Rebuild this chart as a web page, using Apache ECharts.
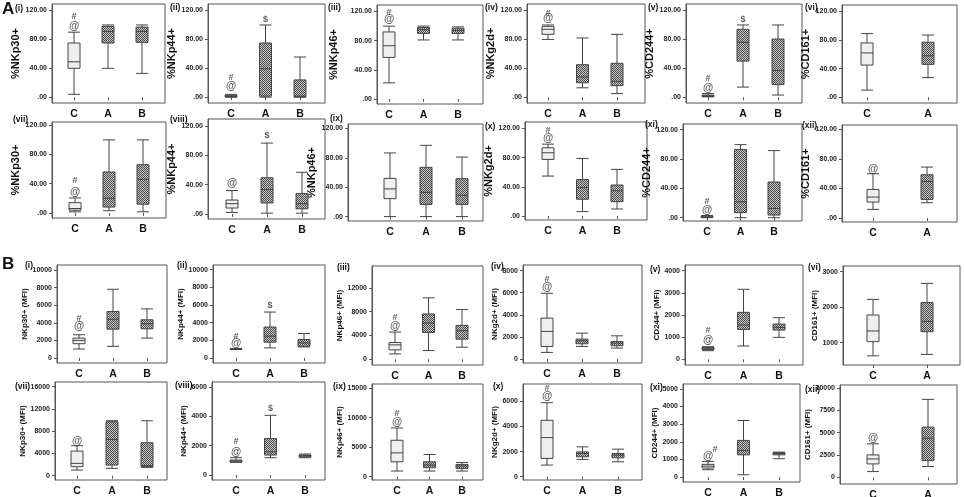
<!DOCTYPE html>
<html>
<head>
<meta charset="utf-8">
<script src="https://cdn.jsdelivr.net/npm/echarts@6/dist/echarts.min.js"></script>
<style>
  html, body { margin: 0; padding: 0; background: #fff; }
  #main { width: 964px; height: 497px; }
</style>
</head>
<body>
<div id="main"></div>
<script>
// groups
const catsCAB = ['C', 'A', 'B'];
const catsCA = ['C', 'A'];

// box values: [min, Q1, median, Q3, max] per group
// A, row 1 (% positive)
const aNKp30 = [[4, 40, 49, 75, 90], [40, 75, 91, 98, 100], [33, 76, 91, 97, 100]];
const aNKp44 = [[0, 0.5, 1, 2.5, 4], [0, 1.5, 39.5, 75, 100], [0, 0.5, 1.5, 24, 55.6]];
const aNKp46 = [[22, 57, 73, 92, 100], [81, 90, 95, 98, 100], [81, 90, 94, 97, 99]];
const aNKg2d = [[80, 87, 94, 98, 100], [13, 20, 28, 45, 82], [5, 16, 22, 47, 87]];
const aCD244 = [[0.5, 1, 2, 3, 5], [14, 50, 76, 94, 100], [3, 17.5, 37, 80.5, 100]];
const aCD161 = [[10, 45, 62, 76, 89], [27.5, 46, 58, 77, 87]];
// A, row 2
const aNKp30b = [[1.4, 3.7, 6, 14, 20.5], [3, 8, 20, 56, 100], [1.5, 12, 46, 66, 100]];
const aNKp44b = [[2, 8, 14, 19, 32], [1, 15, 33.5, 49.5, 97], [1, 7, 14, 28, 57]];
const aNKp46b = [[0, 24.4, 37.7, 52, 86.6], [0, 16.6, 33, 67, 97], [0, 16.6, 29, 51.6, 81]];
const aNKg2db = [[54.8, 77.6, 86.8, 93.6, 98.6], [6, 23, 39, 50, 79], [9.6, 19.6, 34.7, 42.5, 64]];
const aCD244b = [[0, 0.5, 1, 2, 3], [0, 6.8, 21.6, 93, 99.5], [0, 3.6, 12.6, 48.6, 91.4]];
const aCD161b = [[11.7, 21.6, 28.4, 38.7, 60], [20.7, 25.2, 49.5, 58.6, 69]];
// B, row 1 (MFI)
const bNKp30 = [[1020, 1620, 2000, 2260, 2640], [1320, 3280, 4400, 5280, 7810], [2260, 3320, 3890, 4340, 5580]];
const bNKp44 = [[950, 980, 1000, 1030, 1080], [1140, 1790, 2470, 3500, 5200], [1250, 1330, 1710, 2090, 2780]];
const bNKp46 = [[900, 1580, 2420, 2820, 4560], [1460, 4500, 6080, 7600, 10310], [2030, 3380, 4790, 5690, 8340]];
const bNKg2d = [[600, 1140, 2500, 3700, 5950], [1140, 1380, 1650, 1800, 2340], [990, 1200, 1440, 1590, 2100]];
const bCD244 = [[390, 440, 480, 530, 570], [600, 1350, 1550, 2120, 3160], [990, 1320, 1440, 1590, 1880]];
const bCD161 = [[630, 1030, 1330, 1780, 2220], [670, 1310, 1600, 2130, 2670]];
// B, row 2
const bNKp30b = [[1020, 1620, 2220, 4430, 5390], [1320, 1920, 6530, 9700, 9880], [1500, 1620, 1800, 5930, 9880]];
const bNKp44b = [[860, 905, 970, 1020, 1180], [1180, 1360, 1580, 2490, 4070], [1180, 1240, 1310, 1360, 1430]];
const bNKp46b = [[960, 2530, 4040, 6180, 8260], [960, 1520, 1970, 2530, 3760], [960, 1400, 1800, 2080, 2420]];
const bNKg2db = [[930, 1460, 3120, 4500, 5900], [1380, 1590, 1850, 1980, 2380], [1190, 1510, 1720, 1850, 2200]];
const bCD244b = [[415, 510, 620, 720, 890], [130, 1260, 1510, 2080, 3210], [1040, 1260, 1340, 1380, 1415]];
const bCD161b = [[640, 1500, 2060, 2510, 3750], [1200, 1870, 4380, 5620, 8730]];

// significance symbols: [group, value, symbol]
const mkA1 = [['C', 98, '@'], ['C', 112, '#']];
const mkA2 = [['C', 15, '@'], ['C', 27, '#'], ['A', 108, '$']];
const mkA3 = [['C', 109, '@'], ['C', 119, '#']];
const mkA4 = [['C', 109, '@'], ['C', 116, '#']];
const mkA5 = [['C', 13, '@'], ['C', 26, '#'], ['A', 108, '$']];
const mkA7 = [['C', 29, '@'], ['C', 45, '#']];
const mkA8 = [['C', 42, '@'], ['A', 107, '$']];
const mkA10 = [['C', 107, '@'], ['C', 117, '#']];
const mkA11 = [['C', 10.4, '@'], ['C', 21.6, '#']];
const mkA12 = [['C', 66.7, '@']];
const mkB1 = [['C', 3580, '@'], ['C', 4450, '#']];
const mkB2 = [['C', 1630, '@'], ['C', 2470, '#'], ['A', 5890, '$']];
const mkB3 = [['C', 5520, '@'], ['C', 6930, '#']];
const mkB4 = [['C', 6490, '@'], ['C', 7200, '#']];
const mkB5 = [['C', 870, '@'], ['C', 1280, '#']];
const mkB7 = [['C', 6290, '@']];
const mkB8 = [['C', 1580, '@'], ['C', 2260, '#'], ['A', 4520, '$']];
const mkB9 = [['C', 9270, '@'], ['C', 10670, '#']];
const mkB10 = [['C', 6430, '@'], ['C', 7010, '#']];
const mkB11 = [['C', 1190, '@'], ['C', 1570, '#']];
const mkB12 = [['C', 4420, '@']];

// y tick values
const pctTicks = [0, 40, 80, 120];
const ticks10k = [0, 2000, 4000, 6000, 8000, 10000];
const ticks12k = [0, 4000, 8000, 12000];
const ticks8k = [0, 2000, 4000, 6000, 8000];
const ticks4k = [0, 1000, 2000, 3000, 4000];
const ticks3k = [1000, 2000, 3000];
const ticks16k = [0, 4000, 8000, 12000, 16000];
const ticks6k = [0, 2000, 4000, 6000];
const ticks15k = [0, 5000, 10000, 15000];
const ticks5k = [0, 1000, 2000, 3000, 4000, 5000];
const ticks10kq = [0, 2500, 5000, 7500, 10000];

const pctFmt = (v) => v === 0 ? '.00' : v.toFixed(2);
const mfiFmt = (v) => String(v);

// layout: frame [x0, y0, x1, y1], centers of first/last box, y range, name x, tag position
const panels = [
  { frame: [52, 4, 165, 103], centers: [74, 142], yr: [-8, 129], nameX: 18, tag: '(i)', tagAt: [15, 4], name: '%NKp30+', boxes: aNKp30, marks: mkA1, ticks: pctTicks },
  { frame: [208, 4, 325, 103], centers: [231, 300], yr: [-8, 129], nameX: 180, tag: '(ii)', tagAt: [170, 3], name: '%NKp44+', boxes: aNKp44, marks: mkA2, ticks: pctTicks },
  { frame: [377, 5, 483, 104], centers: [389, 458], yr: [-7, 129], nameX: 333, tag: '(iii)', tagAt: [328, 3], name: '%NKp46+', boxes: aNKp46, marks: mkA3, ticks: pctTicks },
  { frame: [527, 4, 645, 103], centers: [548, 617], yr: [-8, 129], nameX: 495, tag: '(iv)', tagAt: [485, 3], name: '%NKg2d+', boxes: aNKg2d, marks: mkA4, ticks: pctTicks },
  { frame: [686, 4, 802, 103], centers: [708, 778], yr: [-8, 129], nameX: 652, tag: '(v)', tagAt: [648, 3], name: '%CD244+', boxes: aCD244, marks: mkA5, ticks: pctTicks },
  { frame: [842, 5, 957, 103], centers: [867, 928], yr: [-8, 129], nameX: 810, tag: '(vi)', tagAt: [805, 3], name: '%CD161+', boxes: aCD161, marks: [], ticks: pctTicks },

  { frame: [52, 122, 166, 218], centers: [75, 143], yr: [-7, 124.5], nameX: 18, tag: '(vii)', tagAt: [13, 115], name: '%NKp30+', boxes: aNKp30b, marks: mkA7, ticks: pctTicks },
  { frame: [208, 119, 325, 219], centers: [232, 302], yr: [-7, 130], nameX: 178, tag: '(viii)', tagAt: [170, 115], name: '%NKp44+', boxes: aNKp44b, marks: mkA8, ticks: pctTicks },
  { frame: [348, 124, 483, 221], centers: [390, 462], yr: [-6, 126], nameX: 334, tag: '(ix)', tagAt: [330, 114], name: '%NKp46+', boxes: aNKp46b, marks: [], ticks: pctTicks },
  { frame: [525, 122, 647, 220], centers: [548, 617], yr: [-5.5, 129], nameX: 493, tag: '(x)', tagAt: [485, 122], name: '%NKg2d+', boxes: aNKg2db, marks: mkA10, ticks: pctTicks },
  { frame: [683, 124, 802, 221], centers: [707, 774], yr: [-4.5, 127.6], nameX: 650, tag: '(xi)', tagAt: [645, 120], name: '%CD244+', boxes: aCD244b, marks: mkA11, ticks: pctTicks },
  { frame: [842, 125, 957, 222], centers: [873, 927], yr: [-5.4, 126], nameX: 810, tag: '(xii)', tagAt: [802, 121], name: '%CD161+', boxes: aCD161b, marks: mkA12, ticks: pctTicks },

  { frame: [57, 265, 167, 363], centers: [79, 147], yr: [-570, 10570], nameX: 26, tag: '(i)', tagAt: [25, 261], name: 'NKp30+ (MFI)', boxes: bNKp30, marks: mkB1, ticks: ticks10k },
  { frame: [213, 265, 325, 363], centers: [236, 304], yr: [-570, 10530], nameX: 183, tag: '(ii)', tagAt: [177, 261], name: 'NKp44+ (MFI)', boxes: bNKp44, marks: mkB2, ticks: ticks10k },
  { frame: [372, 266, 483, 365], centers: [395, 462], yr: [-960, 15650], nameX: 347, tag: '(iii)', tagAt: [337, 263], name: 'NKp46+ (MFI)', boxes: bNKp46, marks: mkB3, ticks: ticks12k },
  { frame: [523, 265, 642, 363], centers: [547, 617], yr: [-360, 8510], nameX: 497, tag: '(iv)', tagAt: [491, 262], name: 'NKg2d+ (MFI)', boxes: bNKg2d, marks: mkB4, ticks: ticks8k },
  { frame: [685, 265, 803, 365], centers: [708, 779], yr: [-257, 4257], nameX: 659, tag: '(v)', tagAt: [650, 265], name: 'CD244+ (MFI)', boxes: bCD244, marks: mkB5, ticks: ticks4k },
  { frame: [843, 266, 960, 365], centers: [873, 927], yr: [372, 3160], nameX: 817, tag: '(vi)', tagAt: [808, 263], name: 'CD161+ (MFI)', boxes: bCD161, marks: [], ticks: ticks3k },

  { frame: [55, 382, 167, 480], centers: [77, 147], yr: [-770, 16845], nameX: 25, tag: '(vii)', tagAt: [15, 382], name: 'NKp30+ (MFI)', boxes: bNKp30b, marks: mkB7, ticks: ticks16k },
  { frame: [212, 382, 325, 480], centers: [236, 305], yr: [-340, 6340], nameX: 185, tag: '(viii)', tagAt: [175, 381], name: 'NKp44+ (MFI)', boxes: bNKp44b, marks: mkB8, ticks: ticks6k },
  { frame: [372, 384, 483, 480], centers: [397, 462], yr: [-560, 15720], nameX: 347, tag: '(ix)', tagAt: [333, 382], name: 'NKp46+ (MFI)', boxes: bNKp46b, marks: mkB9, ticks: ticks15k },
  { frame: [523, 384, 642, 480], centers: [547, 618], yr: [-260, 7390], nameX: 498, tag: '(x)', tagAt: [493, 382], name: 'NKg2d+ (MFI)', boxes: bNKg2db, marks: mkB10, ticks: ticks6k },
  { frame: [683, 384, 800, 482], centers: [708, 779], yr: [-280, 5280], nameX: 658, tag: '(xi)', tagAt: [650, 383], name: 'CD244+ (MFI)', boxes: bCD244b, marks: mkB11, ticks: ticks5k, hashDx: 7 },
  { frame: [840, 385, 957, 484], centers: [873, 928], yr: [-750, 10340], nameX: 813, tag: '(xii)', tagAt: [805, 385], name: 'CD161+ (MFI)', boxes: bCD161b, marks: mkB12, ticks: ticks10kq }
];

const FONT = '"Liberation Sans", Arial, sans-serif';

// fine checkered fill for the patient groups
const hatch = document.createElement('canvas');
hatch.width = 2;
hatch.height = 2;
const hctx = hatch.getContext('2d');
hctx.fillStyle = '#c8c8c8';
hctx.fillRect(0, 0, 2, 2);
hctx.fillStyle = '#4a4a4a';
hctx.fillRect(0, 0, 1, 1);
hctx.fillRect(1, 1, 1, 1);

const grid = [];
const xAxis = [];
const yAxis = [];
const series = [];
const graphic = [
  { type: 'text', left: 2, top: 1, style: { text: 'A', font: 'bold 17px ' + FONT, fill: '#111' } },
  { type: 'text', left: 2, top: 256, style: { text: 'B', font: 'bold 17px ' + FONT, fill: '#111' } }
];

panels.forEach((p, i) => {
  const cats = p.boxes.length === 3 ? catsCAB : catsCA;
  const n = cats.length;
  const [x0, y0, x1, y1] = p.frame;
  const step = (p.centers[1] - p.centers[0]) / (n - 1);
  const left = p.centers[0] - step / 2;
  const isPct = p.ticks === pctTicks;
  const nameSize = isPct ? 11 : 8;

  // frame
  grid.push({
    left: x0, top: y0, width: x1 - x0, height: y1 - y0,
    show: true, borderColor: '#555', borderWidth: 1, backgroundColor: 'transparent',
    outerBoundsMode: 'none'
  });
  // plotting area
  grid.push({ left: left, top: y0, width: step * n, height: y1 - y0, outerBoundsMode: 'none' });
  const gi = grid.length - 1;

  xAxis.push({
    gridIndex: gi, type: 'category', data: cats,
    axisLine: { show: false },
    axisTick: { show: true, alignWithLabel: true, length: 3, lineStyle: { color: '#555' } },
    axisLabel: { margin: 6, fontSize: 10.5, fontWeight: 'bold', color: '#111', fontFamily: FONT },
    splitLine: { show: false }
  });
  yAxis.push({
    gridIndex: gi, type: 'value', min: p.yr[0], max: p.yr[1],
    offset: left - x0,
    name: p.name, nameLocation: 'middle', nameRotate: 90,
    nameGap: x0 - p.nameX - nameSize * 0.6,
    nameTextStyle: { fontSize: nameSize, fontWeight: 'bold', color: '#111', fontFamily: FONT },
    axisLine: { show: true, lineStyle: { color: '#555' } },
    axisTick: { show: true, length: 3, customValues: p.ticks, lineStyle: { color: '#555' } },
    axisLabel: {
      customValues: p.ticks, margin: 5, fontSize: 7, fontWeight: 'bold', color: '#222', fontFamily: FONT,
      formatter: isPct ? pctFmt : mfiFmt
    },
    splitLine: { show: false }
  });

  series.push({
    type: 'boxplot', xAxisIndex: i, yAxisIndex: i,
    boxWidth: [12, 12],
    itemStyle: { borderColor: '#444', borderWidth: 1 },
    emphasis: { disabled: true },
    data: p.boxes.map((b, k) => ({
      value: b,
      itemStyle: { color: k === 0 ? '#efefef' : { image: hatch, repeat: 'repeat' } }
    }))
  });

  series.push({
    type: 'scatter', xAxisIndex: i, yAxisIndex: i,
    symbolSize: 1, itemStyle: { color: 'transparent' }, silent: true,
    data: p.marks.map((m) => ({
      value: [cats.indexOf(m[0]), m[1]],
      label: {
        show: true, position: 'inside', formatter: m[2],
        offset: [m[2] === '#' && p.hashDx ? p.hashDx : 0, 0],
        fontSize: m[2] === '@' ? 10.5 : 9, fontWeight: 'bold', color: '#333', fontFamily: FONT
      }
    }))
  });

  graphic.push({
    type: 'text', left: p.tagAt[0], top: p.tagAt[1],
    style: { text: p.tag, font: 'bold 8.5px ' + FONT, fill: '#111' }
  });
});

const chart = echarts.init(document.getElementById('main'), null, { renderer: 'canvas' });
chart.setOption({
  animation: false,
  backgroundColor: '#fff',
  grid: grid,
  xAxis: xAxis,
  yAxis: yAxis,
  series: series,
  graphic: graphic
});
</script>
</body>
</html>
